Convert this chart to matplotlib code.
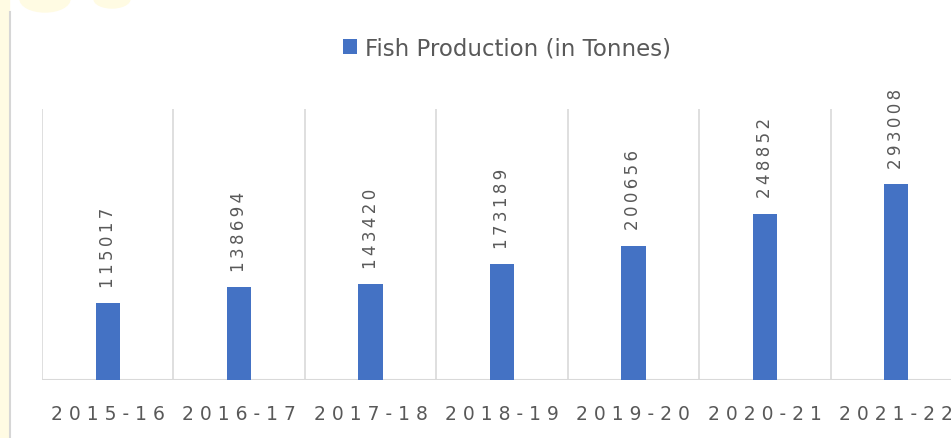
import numpy as np
import matplotlib.pyplot as plt
from matplotlib.lines import Line2D
from matplotlib.patches import Rectangle, Ellipse

years = ["2015-16", "2016-17", "2017-18", "2018-19", "2019-20", "2020-21", "2021-22"]
production = [115017, 138694, 143420, 173189, 200656, 248852, 293008]
series_name = "Fish Production (in Tonnes)"

W, H = 951, 439
fig = plt.figure(figsize=(W / 100, H / 100), dpi=100)
fig.patch.set_facecolor("white")

# faint page decoration on the left edge
fig.add_artist(Rectangle((0, 0), 9 / W, 1, transform=fig.transFigure, color="#fffbe3", zorder=0))
fig.add_artist(Ellipse((45 / W, 1.0), 50 / W, 26 / H, transform=fig.transFigure, color="#fffbe3", zorder=0))
fig.add_artist(Ellipse((112 / W, 1.0), 36 / W, 18 / H, transform=fig.transFigure, color="#fffbe3", zorder=0))
fig.add_artist(Line2D([10 / W, 10 / W], [0, 1 - 13 / H], transform=fig.transFigure, color="#d6d6d6", lw=1.5))

# axes run past the right edge (chart is cropped)
ax_left, ax_right, ax_bot, ax_top = 42, 962, 381, 110
ax = fig.add_axes([ax_left / W, 1 - ax_bot / H, (ax_right - ax_left) / W, (ax_bot - ax_top) / H])
ax.set_facecolor("none")

x = np.arange(len(years))
bars = ax.bar(x, production, width=0.185, color="#4472c4", zorder=3, label=series_name)
ax.set_xlim(-0.5, len(years) - 0.5)
ax.set_ylim(0, 406000)

for b in np.arange(len(years) + 1) - 0.5:
    ax.axvline(b, color="#d9d9d9", lw=1.2, zorder=1)
ax.axhline(0, color="#d9d9d9", lw=1.5, zorder=2)

for s in ax.spines.values():
    s.set_visible(False)
ax.set_yticks([])
ax.set_xticks(x)
ax.set_xticklabels([" ".join(y) for y in years], fontsize=13.5, color="#595959")
ax.tick_params(axis="x", length=0, pad=17)

for xi, v in zip(x, production):
    ax.annotate("\u2009".join(str(v)), (xi, v), xytext=(0, 12), textcoords="offset points",
                rotation=90, ha="center", va="bottom", fontsize=12, color="#595959")

fig.legend(handles=[bars], labels=[series_name], loc="center",
           bbox_to_anchor=(507 / W, 1 - 49 / H), frameon=False, fontsize=16.5,
           handlelength=0.6, handleheight=0.6, handletextpad=0.35, labelcolor="#595959")

fig.savefig("out.png", dpi=100)
